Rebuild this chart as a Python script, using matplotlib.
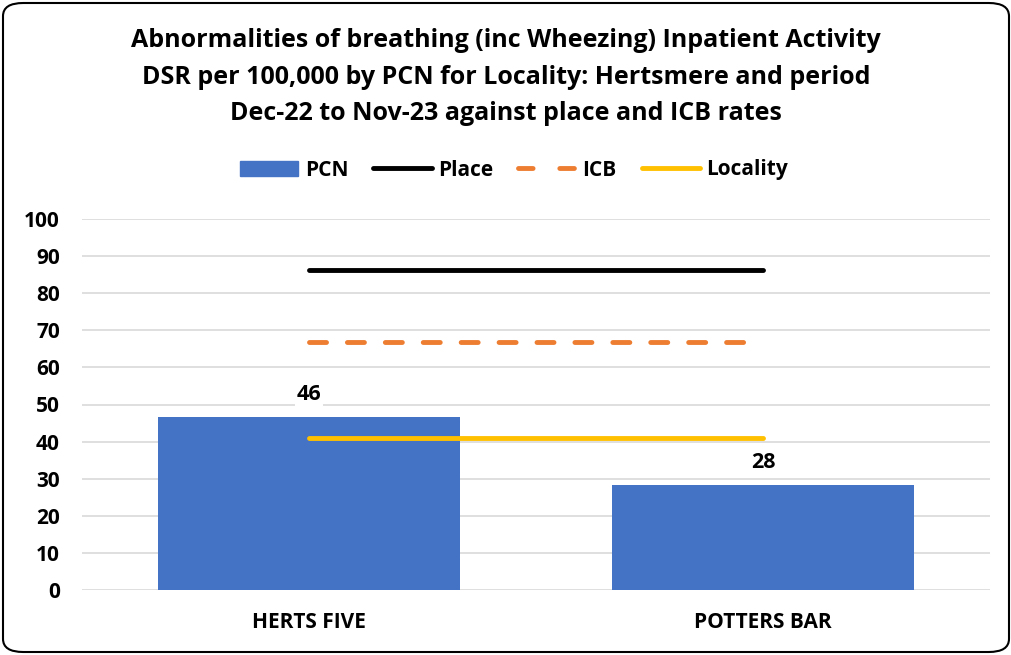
import numpy as np
import matplotlib.pyplot as plt
from matplotlib.patches import FancyBboxPatch
from matplotlib.lines import Line2D
from matplotlib.patches import Patch

plt.rcParams['font.family'] = ['Open Sans', 'DejaVu Sans']
plt.rcParams['font.weight'] = 'bold'

categories = ['HERTS FIVE', 'POTTERS BAR']
pcn = [46.6, 28.3]
pcn_labels = ['46', '28']
place = [86.3, 86.3]
icb = [66.8, 66.8]
locality = [41.0, 41.0]

fig = plt.figure(figsize=(10.12, 6.55), dpi=100)
ax = fig.add_axes([82 / 1012, 1 - 590 / 655, 908 / 1012, 371 / 655])

x = np.arange(len(categories))
ax.bar(x, pcn, width=0.667, color='#4472C4', zorder=2)
ax.plot(x, place, color='black', lw=3.5, zorder=3, solid_capstyle='round')
ax.plot(x, icb, color='#ED7D31', lw=3.5, ls=(0, (3.5, 4.3)), dash_capstyle='round', zorder=3)
ax.plot(x, locality, color='#FFC000', lw=3.5, zorder=3, solid_capstyle='round')

for xi, v, lab in zip(x, pcn, pcn_labels):
    ax.annotate(lab, (xi, v), xytext=(0, 9), textcoords='offset points',
                ha='center', va='bottom', fontsize=15.5, fontweight='bold',
                bbox=dict(facecolor='white', edgecolor='none', pad=1.5), zorder=4)

ax.set_xlim(-0.5, 1.5)
ax.set_ylim(0, 100)
ax.set_yticks(range(0, 101, 10))
ax.set_xticks(x)
ax.set_xticklabels(categories)
ax.grid(axis='y', color='#d9d9d9', lw=1.2, zorder=0)
ax.set_axisbelow(True)
for s in ax.spines.values():
    s.set_visible(False)
ax.tick_params(length=0, labelsize=15, pad=16)
ax.tick_params(axis='x', pad=16)

fig.text(0.5, 1 - 77 / 655,
         'Abnormalities of breathing (inc Wheezing) Inpatient Activity\n'
         'DSR per 100,000 by PCN for Locality: Hertsmere and period\n'
         'Dec-22 to Nov-23 against place and ICB rates',
         ha='center', va='center', fontsize=18, fontweight='bold', linespacing=1.62)

handles = [Patch(color='#4472C4'),
           Line2D([], [], color='black', lw=3.5, solid_capstyle='round'),
           Line2D([], [], color='#ED7D31', lw=3.5, ls=(0, (3.0, 5.5)), dash_capstyle='round'),
           Line2D([], [], color='#FFC000', lw=3.5, solid_capstyle='round')]
leg = fig.legend(handles, ['PCN', 'Place', 'ICB', 'Locality'], loc='center',
                 bbox_to_anchor=(0.508, 1 - 170 / 655), ncol=4, frameon=False,
                 prop={'size': 15, 'weight': 'bold'}, handlelength=2.8,
                 handletextpad=0.3, columnspacing=1.2)

border = FancyBboxPatch((3 / 1012, 3 / 655), 1006 / 1012, 649 / 655,
                        boxstyle='round,pad=0,rounding_size=0.02',
                        transform=fig.transFigure, facecolor='none',
                        edgecolor='black', lw=1.5)
fig.patches.append(border)

fig.savefig('out.png', dpi=100)
